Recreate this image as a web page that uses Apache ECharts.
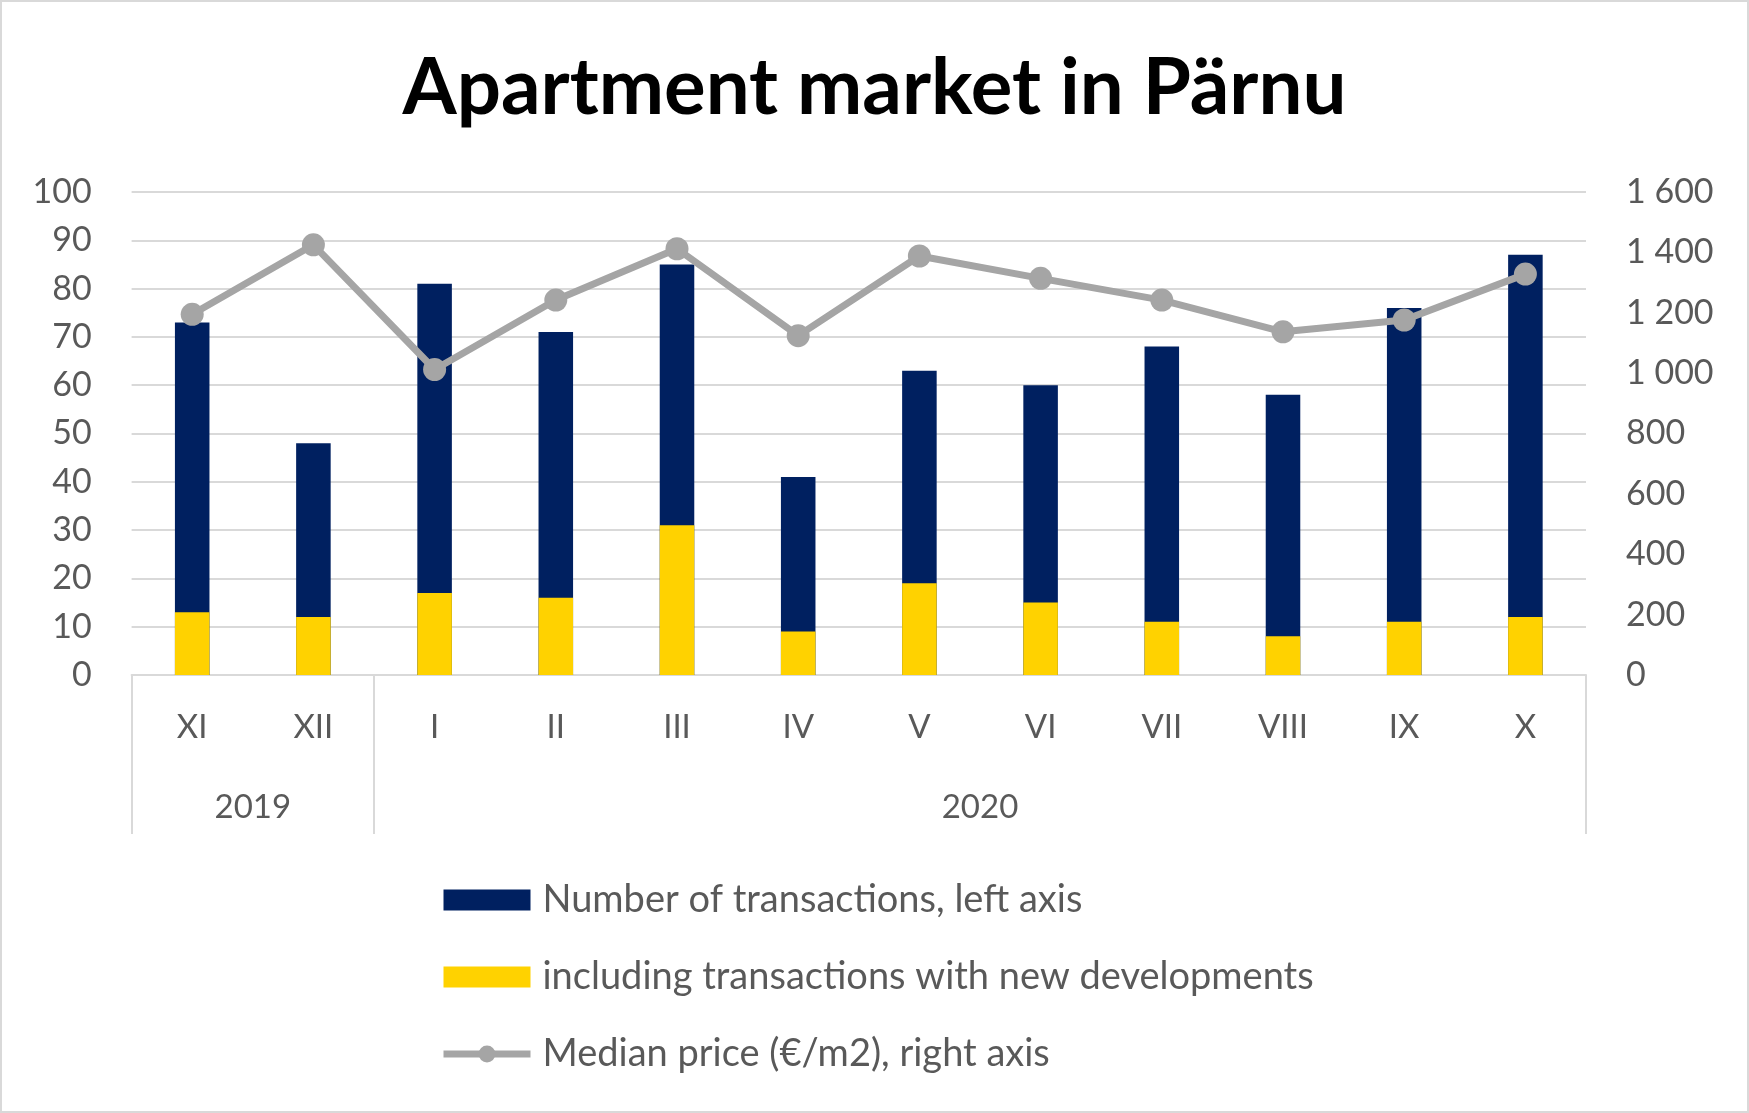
<!DOCTYPE html>
<html><head><meta charset="utf-8">
<script src="https://cdn.jsdelivr.net/npm/echarts@6/dist/echarts.min.js"></script>
<style>html,body{margin:0;padding:0;background:#fff}#c{width:1749px;height:1113px}</style>
</head><body><div id="c"></div>
<script>
const months = ['XI','XII','I','II','III','IV','V','VI','VII','VIII','IX','X'];
const years = ['2019','2020'];
const yearSpans = [2,10];
const transactions = [73,48,81,71,85,41,63,60,68,58,76,87];
const newDevelopments = [13,12,17,16,31,9,19,15,11,8,11,12];
const medianPrice = [1195,1425,1012,1242,1412,1124,1388,1314,1242,1137,1176,1328];
const seriesNames = ['Number of transactions, left axis','including transactions with new developments','Median price (€/m2), right axis'];
const titleText = 'Apartment market in Pärnu';

const boundaries = [0]; const centers = [];
yearSpans.forEach(function(s){ const a = boundaries[boundaries.length-1]; centers.push(a + s/2); boundaries.push(a + s); });
const FONT = 'Lato';
const TXT = '#595959';
const chart = echarts.init(document.getElementById('c'));
chart.setOption({
  animation:false,
  backgroundColor:'#fff',
  textStyle:{fontFamily:FONT},
  graphic:[{type:'rect',shape:{x:1,y:1,width:1747,height:1111},style:{fill:'none',stroke:'#d9d9d9',lineWidth:2},silent:true}],
  title:{text:titleText,left:'center',top:45,textStyle:{fontFamily:FONT,fontWeight:'bold',fontSize:78,color:'#000'}},
  grid:{left:131.6,right:163,top:192,bottom:438,containLabel:false},
  legend:{orient:'vertical',left:435,top:876,itemWidth:87,itemHeight:21,itemGap:39,
    textStyle:{fontFamily:FONT,fontSize:38,color:TXT,padding:[0,0,0,7]},
    lineStyle:{width:7,color:'#A5A5A5'},
    data:[{name:seriesNames[0],icon:'rect'},{name:seriesNames[1],icon:'rect'},{name:seriesNames[2]}]},
  xAxis:[
    {type:'category',data:months,position:'bottom',
     axisLine:{show:true,lineStyle:{color:'#d9d9d9',width:2}},axisTick:{show:false},
     axisLabel:{fontSize:33,color:TXT,margin:36,fontFamily:FONT}},
    {type:'value',min:0,max:boundaries[boundaries.length-1],position:'bottom',
     axisLine:{show:false},splitLine:{show:false},
     axisTick:{show:true,customValues:boundaries,length:159,lineStyle:{color:'#d9d9d9',width:2}},
     axisLabel:{show:true,customValues:centers,margin:116,fontSize:33,color:TXT,fontFamily:FONT,
       formatter:function(v){ const i = centers.indexOf(v); return i>=0 ? years[i] : ''; }}}
  ],
  yAxis:[
    {type:'value',min:0,max:100,interval:10,position:'left',
     axisLine:{show:false},axisTick:{show:false},
     axisLabel:{fontSize:34,color:TXT,margin:40,fontFamily:FONT},
     splitLine:{lineStyle:{color:'#d9d9d9',width:2}}},
    {type:'value',min:0,max:1600,interval:200,position:'right',
     axisLine:{show:false},axisTick:{show:false},splitLine:{show:false},
     axisLabel:{fontSize:34,color:TXT,margin:40,fontFamily:FONT,
       formatter:function(v){ return String(v).replace(/\B(?=(\d{3})+(?!\d))/g,' '); }}}
  ],
  series:[
    {name:seriesNames[0],type:'bar',xAxisIndex:0,yAxisIndex:0,data:transactions,barWidth:'28.5%',barGap:'-100%',itemStyle:{color:'#002060'}},
    {name:seriesNames[1],type:'bar',xAxisIndex:0,yAxisIndex:0,data:newDevelopments,barWidth:'28.5%',barGap:'-100%',itemStyle:{color:'#FFD200'}},
    {name:seriesNames[2],type:'line',xAxisIndex:0,yAxisIndex:1,data:medianPrice,symbol:'circle',symbolSize:23,
     lineStyle:{color:'#A5A5A5',width:7},itemStyle:{color:'#A5A5A5'},z:5}
  ]
});
</script></body></html>
